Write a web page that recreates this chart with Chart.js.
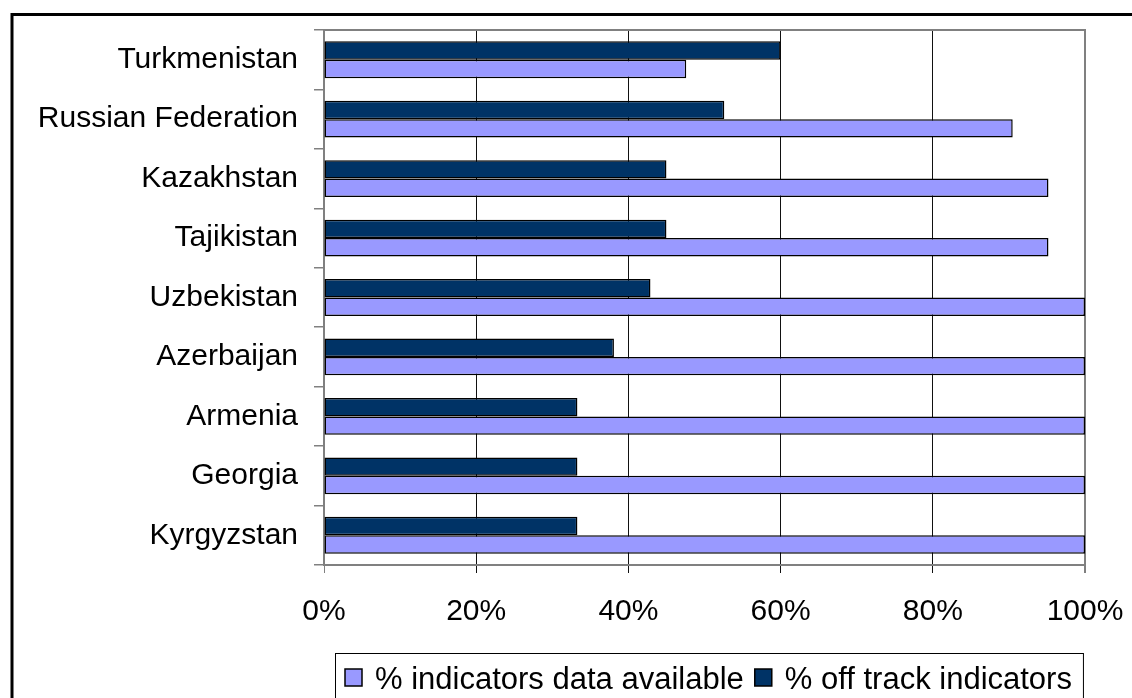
<!DOCTYPE html>
<html>
<head>
<meta charset="utf-8">
<style>
  html, body { margin: 0; padding: 0; background: #ffffff; }
  #wrap { position: relative; width: 1132px; height: 698px; overflow: hidden; }
  canvas { display: block; }
</style>
<script src="https://cdn.jsdelivr.net/npm/chart.js@4/dist/chart.umd.min.js"></script>
</head>
<body>
<div id="wrap"><canvas id="chart" width="1132" height="698"></canvas></div>
<script>
// Countries, top to bottom
const countries = [
  'Turkmenistan', 'Russian Federation', 'Kazakhstan', 'Tajikistan',
  'Uzbekistan', 'Azerbaijan', 'Armenia', 'Georgia', 'Kyrgyzstan'
];
// Share of indicators that are off track (%)
const offTrack = [60.0, 52.6, 45.0, 45.0, 42.9, 38.1, 33.3, 33.3, 33.3];
// Share of indicators with data available (%)
const dataAvailable = [47.6, 90.5, 95.2, 95.2, 100, 100, 100, 100, 100];
// Percent ticks on the value axis
const percentTicks = [0, 20, 40, 60, 80, 100];

const FONT = '"Liberation Sans", Arial, Helvetica, sans-serif';
const LIGHT = '#9999FF';
const DARK = '#003366';
const GREY = '#808080';

// Outer frame, plot border and the boxed legend under the axis
const framePlugin = {
  id: 'frame',
  afterDraw(chart) {
    const c = chart.ctx;
    const a = chart.chartArea;
    c.save();
    // outer frame (runs past the right and bottom edges)
    c.strokeStyle = '#000';
    c.lineWidth = 3;
    c.strokeRect(12, 14.5, 1140, 720);
    // plot area top border
    c.strokeStyle = GREY;
    c.lineWidth = 2;
    c.beginPath();
    c.moveTo(a.left, a.top);
    c.lineTo(a.right + 1, a.top);
    c.stroke();

    // legend: available first, then off track
    const items = [chart.data.datasets[1], chart.data.datasets[0]];
    c.font = '31px ' + FONT;
    c.textBaseline = 'alphabetic';
    c.textAlign = 'left';
    let x = 345;
    const sq = 17, sqTop = 669, base = 689;
    const spans = [];
    items.forEach(ds => {
      spans.push({ x, ds });
      const w = c.measureText(ds.label).width;
      x += sq + 13 + w + 11;
    });
    const boxLeft = 335, boxTop = 653.5, boxRight = x;
    c.fillStyle = '#fff';
    c.fillRect(boxLeft, boxTop, boxRight - boxLeft, 60);
    c.strokeStyle = '#000';
    c.lineWidth = 1;
    c.strokeRect(boxLeft + 0.5, boxTop, boxRight - boxLeft, 60);
    spans.forEach(s => {
      c.fillStyle = s.ds.backgroundColor;
      c.fillRect(s.x, sqTop, sq, sq);
      c.strokeStyle = '#000';
      c.lineWidth = 1.5;
      c.strokeRect(s.x, sqTop, sq, sq);
      c.fillStyle = '#000';
      c.fillText(s.ds.label, s.x + sq + 13, base);
    });
    c.restore();
  }
};

new Chart(document.getElementById('chart'), {
  type: 'bar',
  data: {
    labels: countries,
    datasets: [
      {
        label: '% off track indicators',
        data: offTrack,
        backgroundColor: DARK,
        borderColor: '#000',
        borderWidth: 1.5,
        borderSkipped: false,
        categoryPercentage: 0.62,
        barPercentage: 1.0
      },
      {
        label: '% indicators data available',
        data: dataAvailable,
        backgroundColor: LIGHT,
        borderColor: '#000',
        borderWidth: 1.5,
        borderSkipped: false,
        categoryPercentage: 0.62,
        barPercentage: 1.0
      }
    ]
  },
  options: {
    indexAxis: 'y',
    responsive: false,
    animation: false,
    events: [],
    layout: { padding: { top: 30, right: 47, left: 0, bottom: 0 } },
    plugins: {
      legend: { display: false },
      tooltip: { enabled: false },
      title: { display: false }
    },
    scales: {
      x: {
        min: 0,
        max: 100,
        afterFit(scale) {
          scale.height = 133;
          scale.paddingLeft = 0;
          scale.paddingRight = 0;
        },
        afterBuildTicks(scale) { scale.ticks = percentTicks.map(v => ({ value: v })); },
        border: { display: true, color: GREY, width: 2 },
        grid: {
          drawOnChartArea: true,
          drawTicks: true,
          tickLength: 8,
          color: ctx => (ctx.tick && (ctx.tick.value === 0 || ctx.tick.value === 100)) ? GREY : '#111',
          lineWidth: ctx => (ctx.tick && ctx.tick.value === 100) ? 2 : 1
        },
        ticks: {
          color: '#000',
          font: { family: FONT, size: 30 },
          padding: 21,
          maxRotation: 0,
          autoSkip: false,
          callback: v => v + '%'
        }
      },
      y: {
        afterFit(scale) {
          scale.width = 324;
          scale.paddingTop = 0;
          scale.paddingBottom = 0;
        },
        offset: true,
        border: { display: true, color: GREY, width: 2 },
        grid: {
          offset: true,
          drawOnChartArea: false,
          drawTicks: true,
          tickLength: 10,
          color: GREY,
          lineWidth: 1.5
        },
        ticks: {
          color: '#000',
          font: { family: FONT, size: 30 },
          padding: 16,
          autoSkip: false
        }
      }
    }
  },
  plugins: [framePlugin]
});
</script>
</body>
</html>
